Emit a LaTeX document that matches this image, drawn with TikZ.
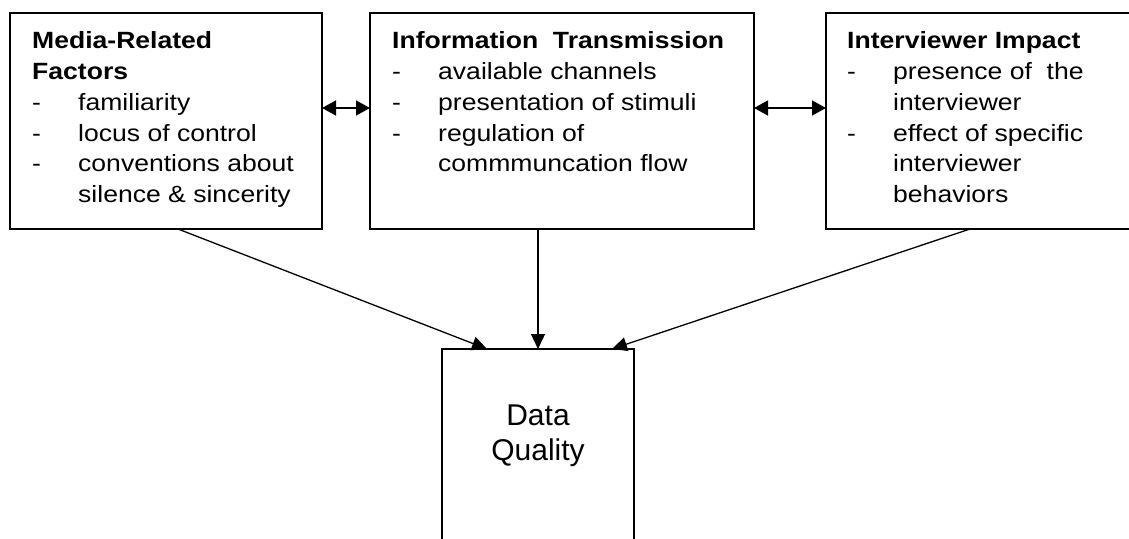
\documentclass[tikz,border=0pt]{standalone}
\usepackage{fontspec}
\setmainfont{Liberation Sans}
\newfontfamily\boxfont[FakeStretch=1.13]{Liberation Sans}
\usetikzlibrary{positioning,arrows.meta}
\newcommand{\itm}[1]{\makebox[46pt][l]{-}#1}
\newcommand{\cnt}[1]{\hspace*{46pt}#1}

\begin{document}
\begin{tikzpicture}[x=1pt,y=-1pt,
    box/.style={draw, line width=1.5pt, rectangle, anchor=north west, inner sep=0pt, outer sep=0pt},
    boxtext/.style={align=left, inner sep=0pt, font=\boxfont\fontsize{23.5}{30.8}\selectfont},
    link/.style={line width=1.3pt, -{Triangle[length=15pt,width=14pt]}},
    both/.style={line width=1.3pt, {Triangle[length=14pt,width=15pt]}-{Triangle[length=14pt,width=15pt]}}]
    \clip (0,0) rectangle (1129,538);
    % three factor boxes and the data quality box
    \node[box, minimum width=312, minimum height=216] (media) at (10,13) {};
    \node[box, minimum width=384, minimum height=216] (trans) at (370,13) {};
    \node[box, minimum width=320, minimum height=216] (impact) at (826,13) {};
    \node[box, minimum width=192, minimum height=220] (dq) at (442,349) {};

    \node[boxtext, below right=18.5pt and 22pt of media.north west] (mediatext) {%
        \textbf{Media-Related}\\ \textbf{Factors}\\
        \itm{familiarity}\\ \itm{locus of control}\\
        \itm{conventions about}\\ \cnt{silence \& sincerity}};
    \node[boxtext, below right=18.5pt and 22pt of trans.north west] (transtext) {%
        \textbf{Information~ Transmission}\\
        \itm{available channels}\\ \itm{presentation of stimuli}\\
        \itm{regulation of}\\ \cnt{commmuncation flow}};
    \node[boxtext, below right=18.5pt and 21pt of impact.north west] (impacttext) {%
        \textbf{Interviewer Impact}\\
        \itm{presence of~ the}\\ \cnt{interviewer}\\
        \itm{effect of specific}\\ \cnt{interviewer}\\ \cnt{behaviors}};
    \node[align=center, inner sep=0pt, font=\fontsize{30}{35}\selectfont,
        below=56pt of dq.north] (dqtext) {Data\\Quality};

    % connectors
    \draw[both] ([yshift=13pt]media.east) -- ([yshift=13pt]trans.west);
    \draw[both] ([yshift=13pt]trans.east) -- ([yshift=13pt]impact.west);
    \draw[link] ([xshift=168pt]media.south west) -- ([xshift=45pt]dq.north west);
    \draw[link] (dq.north |- trans.south) -- (dq.north);
    \draw[link] ([xshift=144pt]impact.south west) -- ([xshift=-22pt]dq.north east);
\end{tikzpicture}
\end{document}
